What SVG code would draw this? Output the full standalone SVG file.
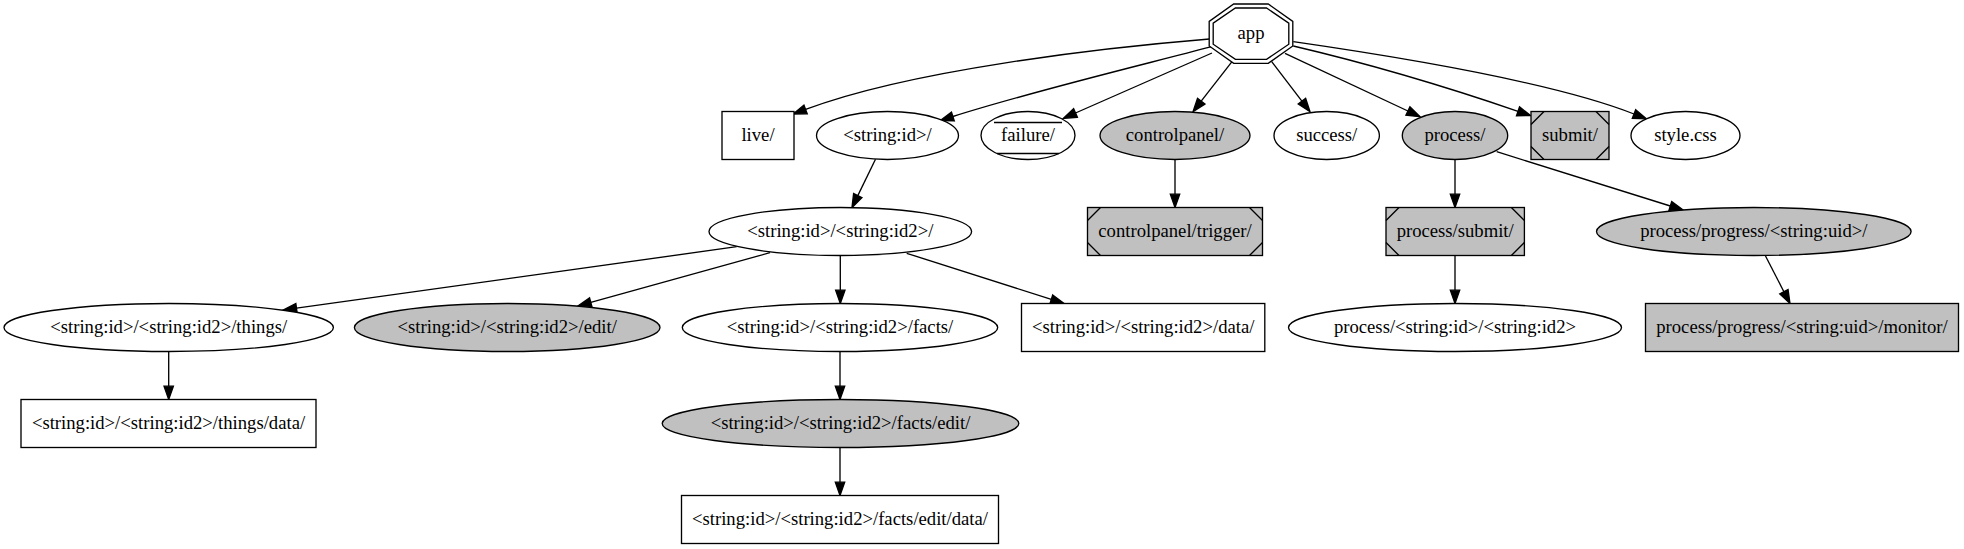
<svg xmlns="http://www.w3.org/2000/svg" width="1964" height="549" viewBox="0 0 1964 549">
<defs>
<style>
.n{stroke:#000;stroke-width:1.33;fill:#fff}
.g{fill:#c0c0c0}
.l{stroke:#000;stroke-width:1.33;fill:none}
.t{font-family:"Liberation Serif","Times New Roman",serif;font-size:18.67px;text-anchor:middle;fill:#000}
.e{stroke:#000;stroke-width:1.33;fill:none;marker-end:url(#ah)}
</style>
<marker id="ah" markerUnits="userSpaceOnUse" markerWidth="16" markerHeight="12" refX="0" refY="5.5" orient="auto" overflow="visible">
<path d="M0,0.83 L13.33,5.5 L0,10.17 z" fill="#000" stroke="#000" stroke-width="1.33"/>
</marker>
</defs>
<rect width="1964" height="549" fill="#fff"/>
<g id="connectors">
<path class="e" d="M1209.5,39 C1100,48 910,70 805.6,109.4"/>
<path class="e" d="M1211.7,46.7 C1130,68 1030,92 952.9,116.5"/>
<path class="e" d="M1212,53 L1075.5,113"/>
<path class="e" d="M1232,61.7 L1201.2,101.2"/>
<path class="e" d="M1271.7,61.7 L1301.9,101.1"/>
<path class="e" d="M1285,53.3 L1407.9,111"/>
<path class="e" d="M1293.3,46 C1370,64 1450,88 1518,111.3"/>
<path class="e" d="M1293.3,41.7 C1420,60 1560,85 1634,114"/>
<path class="e" d="M875.5,159.3 L857.8,195.6"/>
<path class="e" d="M1175,159.5 L1175,194.2"/>
<path class="e" d="M1455,159.5 L1455,194.2"/>
<path class="e" d="M1496.7,151.7 L1670.3,206"/>
<path class="e" d="M1765,255 L1783.9,291.7"/>
<path class="e" d="M1455,255.5 L1455,290.2"/>
<path class="e" d="M736.7,246.7 L296.5,308.2"/>
<path class="e" d="M770,252.7 L590.8,302.4"/>
<path class="e" d="M840.3,255.5 L840.3,290.2"/>
<path class="e" d="M906.7,253.3 L1051.3,299.4"/>
<path class="e" d="M168.7,351.5 L168.7,386.2"/>
<path class="e" d="M840,351.5 L840,386.2"/>
<path class="e" d="M840,447.5 L840,482.2"/>
</g>
<g id="app">
<polygon class="n" points="1268.3,4 1292.8,21.4 1292.8,46 1268.3,63.3 1233.7,63.3 1209.2,46 1209.2,21.4 1233.7,4"/>
<polygon class="l" points="1266.6,8 1288.8,23.2 1288.8,44.2 1266.6,59.3 1235.4,59.3 1213.2,44.2 1213.2,23.2 1235.4,8"/>
<text class="t" x="1251" y="39">app</text>
</g>
<g id="live">
<rect class="n" x="722" y="111.5" width="72" height="48"/>
<text class="t" x="758" y="140.8">live/</text>
</g>
<g id="string_id">
<ellipse class="n" cx="887.5" cy="135.5" rx="71" ry="24"/>
<text class="t" x="887.5" y="140.8">&lt;string:id&gt;/</text>
</g>
<g id="failure">
<ellipse class="n" cx="1028" cy="135.5" rx="47" ry="24"/>
<path class="l" d="M994,122.5 L1062,122.5 M997,153.5 L1059,153.5"/>
<text class="t" x="1028" y="140.8">failure/</text>
</g>
<g id="controlpanel">
<ellipse class="n g" cx="1175" cy="135.5" rx="75" ry="24"/>
<text class="t" x="1175" y="140.8">controlpanel/</text>
</g>
<g id="success">
<ellipse class="n" cx="1326.7" cy="135.5" rx="52.7" ry="24"/>
<text class="t" x="1326.7" y="140.8">success/</text>
</g>
<g id="process">
<ellipse class="n g" cx="1455" cy="135.5" rx="52.7" ry="24"/>
<text class="t" x="1455" y="140.8">process/</text>
</g>
<g id="submit">
<rect class="n g" x="1531" y="111.5" width="78" height="48"/>
<path class="l" d="M1531,124.5 L1544,111.5 M1596,111.5 L1609,124.5 M1609,146.5 L1596,159.5 M1544,159.5 L1531,146.5"/>
<text class="t" x="1570" y="140.8">submit/</text>
</g>
<g id="style_css">
<ellipse class="n" cx="1685.5" cy="135.5" rx="54.5" ry="24"/>
<text class="t" x="1685.5" y="140.8">style.css</text>
</g>
<g id="string_id_id2">
<ellipse class="n" cx="840.3" cy="231.5" rx="131.3" ry="24"/>
<text class="t" x="840.3" y="236.8">&lt;string:id&gt;/&lt;string:id2&gt;/</text>
</g>
<g id="controlpanel_trigger">
<rect class="n g" x="1087.5" y="207.5" width="175" height="48"/>
<path class="l" d="M1087.5,220.5 L1100.5,207.5 M1249.5,207.5 L1262.5,220.5 M1262.5,242.5 L1249.5,255.5 M1100.5,255.5 L1087.5,242.5"/>
<text class="t" x="1175" y="236.8">controlpanel/trigger/</text>
</g>
<g id="process_submit">
<rect class="n g" x="1386" y="207.5" width="138.4" height="48"/>
<path class="l" d="M1386,220.5 L1399,207.5 M1511.4,207.5 L1524.4,220.5 M1524.4,242.5 L1511.4,255.5 M1399,255.5 L1386,242.5"/>
<text class="t" x="1455.2" y="236.8">process/submit/</text>
</g>
<g id="process_progress">
<ellipse class="n g" cx="1753.8" cy="231.5" rx="157.3" ry="24"/>
<text class="t" x="1753.8" y="236.8">process/progress/&lt;string:uid&gt;/</text>
</g>
<g id="things">
<ellipse class="n" cx="168.7" cy="327.5" rx="164.7" ry="24"/>
<text class="t" x="168.7" y="332.8">&lt;string:id&gt;/&lt;string:id2&gt;/things/</text>
</g>
<g id="edit">
<ellipse class="n g" cx="507.2" cy="327.5" rx="152.8" ry="24"/>
<text class="t" x="507.2" y="332.8">&lt;string:id&gt;/&lt;string:id2&gt;/edit/</text>
</g>
<g id="facts">
<ellipse class="n" cx="840" cy="327.5" rx="157.7" ry="24"/>
<text class="t" x="840" y="332.8">&lt;string:id&gt;/&lt;string:id2&gt;/facts/</text>
</g>
<g id="data">
<rect class="n" x="1021.5" y="303.5" width="243.3" height="48"/>
<text class="t" x="1143.2" y="332.8">&lt;string:id&gt;/&lt;string:id2&gt;/data/</text>
</g>
<g id="process_id_id2">
<ellipse class="n" cx="1455" cy="327.5" rx="166.5" ry="24"/>
<text class="t" x="1455" y="332.8">process/&lt;string:id&gt;/&lt;string:id2&gt;</text>
</g>
<g id="monitor">
<rect class="n g" x="1645.5" y="303.5" width="313" height="48"/>
<text class="t" x="1802" y="332.8">process/progress/&lt;string:uid&gt;/monitor/</text>
</g>
<g id="things_data">
<rect class="n" x="21" y="399.5" width="295" height="48"/>
<text class="t" x="168.5" y="428.8">&lt;string:id&gt;/&lt;string:id2&gt;/things/data/</text>
</g>
<g id="facts_edit">
<ellipse class="n g" cx="840.5" cy="423.5" rx="178.3" ry="24"/>
<text class="t" x="840.5" y="428.8">&lt;string:id&gt;/&lt;string:id2&gt;/facts/edit/</text>
</g>
<g id="facts_edit_data">
<rect class="n" x="681.5" y="495.5" width="317" height="48"/>
<text class="t" x="840" y="524.8">&lt;string:id&gt;/&lt;string:id2&gt;/facts/edit/data/</text>
</g>
</svg>
